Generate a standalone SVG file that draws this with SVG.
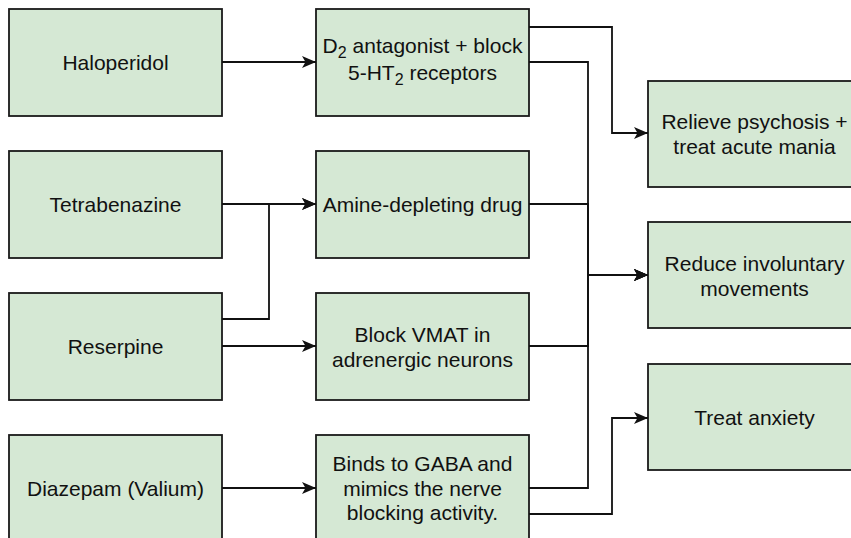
<svg xmlns="http://www.w3.org/2000/svg" width="851" height="538" viewBox="0 0 851 538">
  <style>
    .box { fill: #d5e8d4; stroke: #1a1a1a; stroke-width: 1.8; }
    .lbl { font-family: "Liberation Sans", Arial, Helvetica, sans-serif; font-size: 21px; fill: #111; text-anchor: middle; }
    .edge { fill: none; stroke: #111; stroke-width: 1.8; }
  </style>
  <defs>
    <marker id="arrow" markerUnits="userSpaceOnUse" markerWidth="16" markerHeight="14" refX="14" refY="6" orient="auto">
      <path d="M0,0 L14,6 L0,12 L3.5,6 Z" fill="#111"/>
    </marker>
  </defs>
  <rect width="851" height="538" fill="#ffffff"/>

  <!-- drugs -->
  <g id="haloperidol">
    <rect class="box" x="9" y="9" width="213" height="107"/>
    <text class="lbl" x="115.5" y="70">Haloperidol</text>
  </g>
  <g id="tetrabenazine">
    <rect class="box" x="9" y="151" width="213" height="107"/>
    <text class="lbl" x="115.5" y="212">Tetrabenazine</text>
  </g>
  <g id="reserpine">
    <rect class="box" x="9" y="293" width="213" height="107"/>
    <text class="lbl" x="115.5" y="354">Reserpine</text>
  </g>
  <g id="diazepam">
    <rect class="box" x="9" y="435" width="213" height="107"/>
    <text class="lbl" x="115.5" y="496">Diazepam (Valium)</text>
  </g>

  <!-- mechanisms -->
  <g id="d2-antagonist">
    <rect class="box" x="316" y="9" width="213" height="107"/>
    <text class="lbl" x="422.5" y="53">D<tspan font-size="16" dy="5">2</tspan><tspan dy="-5"> antagonist + block</tspan></text>
    <text class="lbl" x="422.5" y="80">5-HT<tspan font-size="16" dy="5">2</tspan><tspan dy="-5"> receptors</tspan></text>
  </g>
  <g id="amine-depleting">
    <rect class="box" x="316" y="151" width="213" height="107"/>
    <text class="lbl" x="422.5" y="212">Amine-depleting drug</text>
  </g>
  <g id="block-vmat">
    <rect class="box" x="316" y="293" width="213" height="107"/>
    <text class="lbl" x="422.5" y="342">Block VMAT in</text>
    <text class="lbl" x="422.5" y="367">adrenergic neurons</text>
  </g>
  <g id="binds-gaba">
    <rect class="box" x="316" y="435" width="213" height="107"/>
    <text class="lbl" x="422.5" y="471">Binds to GABA and</text>
    <text class="lbl" x="422.5" y="496">mimics the nerve</text>
    <text class="lbl" x="422.5" y="520">blocking activity.</text>
  </g>

  <!-- effects -->
  <g id="relieve-psychosis">
    <rect class="box" x="648" y="81" width="213" height="106"/>
    <text class="lbl" x="754.5" y="129">Relieve psychosis +</text>
    <text class="lbl" x="754.5" y="154">treat acute mania</text>
  </g>
  <g id="reduce-movements">
    <rect class="box" x="648" y="222" width="213" height="106"/>
    <text class="lbl" x="754.5" y="271">Reduce involuntary</text>
    <text class="lbl" x="754.5" y="296">movements</text>
  </g>
  <g id="treat-anxiety">
    <rect class="box" x="648" y="364" width="213" height="106"/>
    <text class="lbl" x="754.5" y="425">Treat anxiety</text>
  </g>

  <!-- connectors -->
  <g id="connectors">
    <path class="edge" d="M222,62 H316" marker-end="url(#arrow)"/>
    <path class="edge" d="M222,204 H316" marker-end="url(#arrow)"/>
    <path class="edge" d="M222,319 H269 V204 H316" marker-end="url(#arrow)"/>
    <path class="edge" d="M222,346 H316" marker-end="url(#arrow)"/>
    <path class="edge" d="M222,488 H316" marker-end="url(#arrow)"/>
    <path class="edge" d="M529,27 H612 V133 H648" marker-end="url(#arrow)"/>
    <path class="edge" d="M529,62 H588 V275 H648" marker-end="url(#arrow)"/>
    <path class="edge" d="M529,204 H588 V275 H648" marker-end="url(#arrow)"/>
    <path class="edge" d="M529,346 H588 V275 H648" marker-end="url(#arrow)"/>
    <path class="edge" d="M529,488 H588 V275 H648" marker-end="url(#arrow)"/>
    <path class="edge" d="M529,514 H612 V418 H648" marker-end="url(#arrow)"/>
  </g>
</svg>
